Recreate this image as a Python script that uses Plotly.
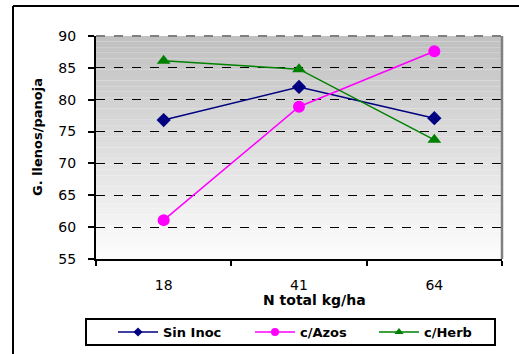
import plotly.graph_objects as go

categories = ["18", "41", "64"]
series_names = ["Sin Inoc", "c/Azos", "c/Herb"]
sin_inoc = [76.8, 82.0, 77.1]
c_azos = [61.1, 78.9, 87.6]
c_herb = [86.1, 84.8, 73.7]
y_ticks = [55, 60, 65, 70, 75, 80, 85, 90]

colors = ["#000080", "#ff00ff", "#008000"]
symbols = ["diamond", "circle", "triangle-up"]
sizes = [11, 12, 12]
leg_sizes = [7, 8, 8]
legend_ids = ["legend", "legend2", "legend3"]
legend_px = [113, 250, 374]

W, H = 519, 354
L, R, T, B = 96, 17, 36, 95
pw, ph = W - L - R, H - T - B

def px_x(p):
    return (p - L) / pw

def px_y(p):
    return (H - B - p) / ph

FONT = "DejaVu Sans"

fig = go.Figure()
for name, vals, col, sym, sz, lsz, lid in zip(series_names, [sin_inoc, c_azos, c_herb],
                                               colors, symbols, sizes, leg_sizes, legend_ids):
    fig.add_trace(go.Scatter(x=categories, y=vals, name=name, mode="lines+markers",
                             line=dict(color=col, width=1.5), showlegend=False,
                             marker=dict(symbol=sym, size=sz, color=col)))
    fig.add_trace(go.Scatter(x=[None], y=[None], name=name, mode="lines+markers",
                             line=dict(color=col, width=1.5), showlegend=True, legend=lid,
                             marker=dict(symbol=sym, size=lsz, color=col)))

shapes = []
n = 40
top_c, bot_c = 192, 253
for i in range(n):
    f = (i + 0.5) / n
    c = round(bot_c + (top_c - bot_c) * f)
    shapes.append(dict(type="rect", xref="x domain", yref="y domain", x0=0, x1=1,
                       y0=i / n, y1=(i + 1) / n, fillcolor=f"rgb({c},{c},{c})",
                       line=dict(width=0), layer="below"))
shapes.append(dict(type="line", xref="x domain", yref="y domain", x0=0, x1=1, y0=1, y1=1,
                   line=dict(color="#808080", width=2, dash="dash"), layer="above"))
shapes.append(dict(type="line", xref="x domain", yref="y domain", x0=1, x1=1, y0=0, y1=1,
                   line=dict(color="#808080", width=2.5), layer="above"))
fx, fy = px_x(13), px_y(6)
shapes.append(dict(type="line", xref="paper", yref="paper", x0=fx, x1=1.2, y0=fy, y1=fy,
                   line=dict(color="#000000", width=2)))
shapes.append(dict(type="line", xref="paper", yref="paper", x0=fx, x1=fx, y0=-1, y1=fy,
                   line=dict(color="#000000", width=2)))
shapes.append(dict(type="rect", xref="paper", yref="paper", x0=px_x(86), x1=px_x(495),
                   y0=px_y(345), y1=px_y(319), line=dict(color="black", width=2),
                   fillcolor="white", layer="below"))

annotations = [
    dict(text="G. llenos/panoja", textangle=-90, xref="paper", yref="paper",
         x=px_x(37), y=px_y(137), showarrow=False, xanchor="center", yanchor="middle",
         font=dict(family=FONT, size=13, weight="bold", color="black")),
    dict(text="N total kg/ha", xref="paper", yref="paper",
         x=px_x(314), y=px_y(300), showarrow=False, xanchor="center", yanchor="middle",
         font=dict(family=FONT, size=14, weight="bold", color="black")),
]

legend_layouts = {}
for lid, lx in zip(legend_ids, legend_px):
    legend_layouts[lid] = dict(orientation="h", x=px_x(lx), xanchor="left",
                               y=px_y(332), yanchor="middle",
                               borderwidth=0, bgcolor="rgba(0,0,0,0)",
                               font=dict(size=13, family=FONT, weight="bold", color="black"),
                               itemwidth=40)

fig.update_layout(
    width=W, height=H,
    margin=dict(l=L, r=R, t=T, b=B, autoexpand=False),
    paper_bgcolor="white",
    plot_bgcolor="rgba(0,0,0,0)",
    font=dict(family=FONT, color="black"),
    shapes=shapes,
    annotations=annotations,
    showlegend=True,
    xaxis=dict(type="category", tickson="boundaries", ticks="outside", ticklen=5,
               tickcolor="black", tickwidth=2, showline=True, linecolor="black", linewidth=2,
               showgrid=False, tickfont=dict(size=14, family=FONT), ticklabelstandoff=12,
               range=[-0.5, 2.5]),
    yaxis=dict(range=[55, 90], tickvals=y_ticks, ticks="outside", ticklen=6, tickcolor="black",
               tickwidth=2, showline=True, linecolor="black", linewidth=2,
               showgrid=True, gridcolor="black", griddash="dash", gridwidth=1.2,
               tickfont=dict(size=14, family=FONT), ticklabelstandoff=9),
    **legend_layouts,
)

fig.write_html("out.html")
